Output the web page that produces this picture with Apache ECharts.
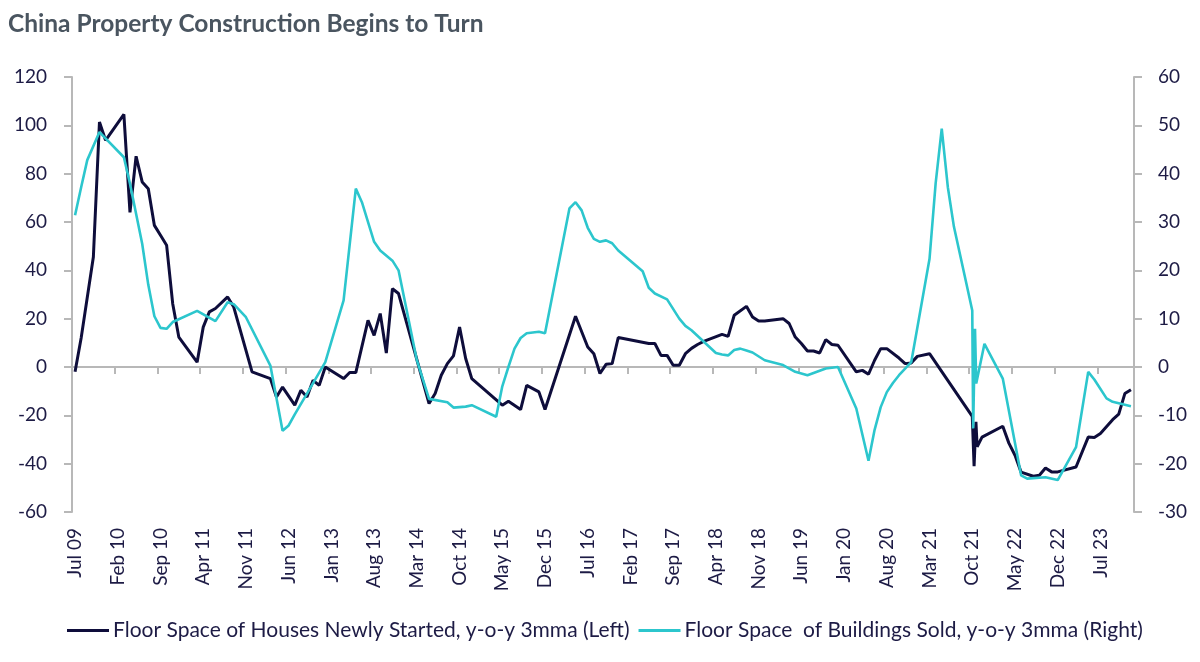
<!DOCTYPE html>
<html>
<head>
<meta charset="utf-8">
<script src="https://cdn.jsdelivr.net/npm/echarts@6/dist/echarts.min.js"></script>
<style>
  html, body { margin: 0; padding: 0; background: #fff; }
  #chart { width: 1200px; height: 662px; }
</style>
</head>
<body>
<div id="chart"></div>
<script>
// month axis: Jul 09 .. Dec 23
var monthNames = ['Jan', 'Feb', 'Mar', 'Apr', 'May', 'Jun', 'Jul', 'Aug', 'Sep', 'Oct', 'Nov', 'Dec'];
var startYear = 2009, startMonth = 6, monthCount = 174;
var months = [];
for (var i = 0; i < monthCount; i++) {
  var m = startMonth + i;
  var yy = (startYear + Math.floor(m / 12)) % 100;
  months.push(monthNames[m % 12] + ' ' + (yy < 10 ? '0' + yy : yy));
}

var leftTicks = { min: -60, max: 120, step: 20 };
var rightTicks = { min: -30, max: 60, step: 10 };

var seriesNames = [
  'Floor Space of Houses Newly Started, y-o-y 3mma (Left)',
  'Floor Space  of Buildings Sold, y-o-y 3mma (Right)'
];

// [month index from Jul 09, value]
var housesStarted = [
  [0, -2], [1, 12], [3, 45.5], [4, 101.4], [5, 93.8], [8, 104.5], [9, 64], [10, 87.2],
  [11, 76.6], [12, 73.8], [13, 58.6], [14, 54.5], [15, 50.4], [16, 26.2], [17, 12.4],
  [20, 2], [21, 16.5], [22, 22.8], [23, 24.2], [25, 29], [26, 24.8], [29, -2],
  [32, -4.8], [33, -12.4], [34, -8.3], [36, -15.8], [37, -9.6], [38, -12.4], [39, -5.5],
  [40, -7.6], [41, 0], [44, -4.8], [45, -2.3], [46, -2.3], [48, 19.3], [49, 13.1],
  [50, 22.1], [51, 5.8], [52, 32.4], [53, 30.4], [58, -15.1], [59, -11], [60, -3.4],
  [61, 1.4], [62, 4.6], [63, 16.5], [64, 3.5], [65, -4.8], [70, -15.8], [71, -14.2],
  [73, -17.6], [74, -7.6], [76, -10.3], [77, -17.6], [82, 21], [84, 8.3], [85, 5.5],
  [86, -2.7], [87, 1.1], [88, 1.4], [89, 12.2], [94, 9.7], [95, 9.7], [96, 4.8],
  [97, 4.8], [98, 0.7], [99, 0.7], [100, 5.5], [101, 7.7], [102, 9.3], [103, 10.6],
  [106, 13.5], [107, 12.7], [108, 21.4], [110, 25.1], [111, 20.7], [112, 19], [113, 19],
  [116, 20], [117, 18], [118, 12.4], [119, 9.7], [120, 6.6], [121, 6.6], [122, 5.8],
  [123, 11.3], [124, 9.3], [125, 9], [128, -2], [129, -1.4], [130, -3], [131, 2.8],
  [132, 7.6], [133, 7.6], [135, 3.7], [136, 1.4], [137, 1.7], [138, 4.4], [140, 5.5],
  [147, -20.4], [147.3, -41], [147.6, -22.7], [147.8, -33], [148.6, -29], [152, -24.5],
  [153, -31.5], [154, -36.5], [155, -43.5], [157, -45.2], [158, -44.8], [159, -41.8],
  [160, -43.4], [161, -43.4], [164, -41.4], [166, -29], [167, -29.2], [168, -27.5],
  [170, -21.8], [171, -19.5], [172, -11], [173, -9.4]
];

var buildingsSold = [
  [0, 31.4], [1, 37.2], [2, 42.8], [4, 48.6], [8, 43.4], [9, 37.9], [11, 25.5], [12, 17],
  [13, 10.5], [14, 8.1], [15, 7.9], [16, 9.3], [20, 11.6], [23, 9.5], [25, 13.4], [26, 13],
  [28, 10.3], [32, 0.3], [34, -13.2], [35, -12.1], [36, -9.8], [38, -5.5], [41, 1],
  [44, 13.8], [46, 36.9], [47, 34.1], [49, 25.9], [50, 24.1], [52, 22], [53, 20],
  [56, 1.4], [58, -6.6], [61, -7.3], [62, -8.4], [64, -8.2], [65, -7.9], [69, -10.3],
  [70, -4], [71, 0], [72, 3.8], [73, 6], [74, 7], [76, 7.3], [77, 7], [81, 32.8],
  [82, 34.1], [83, 32.4], [84, 28.8], [85, 26.5], [86, 25.9], [87, 26.2], [88, 25.6],
  [89, 24.1], [93, 19.8], [94, 16.4], [95, 15.2], [97, 14], [99, 10], [100, 8.5],
  [101, 7.6], [105, 2.9], [106, 2.6], [107, 2.4], [108, 3.5], [109, 3.8], [110, 3.4],
  [111, 3], [113, 1.4], [116, 0.4], [118, -1], [120, -1.7], [123, -0.3], [125, 0],
  [128, -8.6], [130, -19.4], [131, -13], [132, -8.3], [133, -5.2], [134, -3.3],
  [135, -1.7], [137, 1], [140, 22.4], [141, 38], [142, 49.3], [143, 37.2], [144, 29],
  [146, 17.5], [147, 11.7], [147.15, -12.7], [147.45, 7.9], [147.65, -3.4], [149, 4.8],
  [152, -2.4], [155, -22.4], [156, -23.1], [159, -22.8], [161, -23.4], [164, -16.6],
  [166, -1], [167, -2.6], [169, -6.5], [170, -7.2], [173, -8.1]
];

var textColor = '#1d1b45';
var axisGrey = '#b8b8b8';
var font = 'Lato';

var chart = echarts.init(document.getElementById('chart'));
chart.setOption({
  backgroundColor: '#fff',
  animation: false,
  title: {
    text: 'China Property Construction Begins to Turn',
    left: 3,
    top: 7,
    textStyle: { fontFamily: font, fontSize: 24.5, fontWeight: 'bold', color: '#4a5560' }
  },
  legend: {
    data: seriesNames,
    left: 62,
    top: 615,
    icon: 'rect',
    itemWidth: 42,
    itemHeight: 3,
    itemGap: 9,
    textStyle: { fontFamily: font, fontSize: 21, color: textColor, padding: [0, 0, 0, -1] }
  },
  grid: { left: 72, right: 66, top: 77, bottom: 150 },
  xAxis: [
    {
      // month labels along the bottom
      type: 'category',
      data: months,
      position: 'bottom',
      boundaryGap: true,
      axisLine: { show: false, onZero: false },
      axisTick: { show: false },
      axisLabel: {
        interval: 6,
        rotate: 90,
        margin: 16,
        fontFamily: font,
        fontSize: 19,
        color: textColor
      },
      splitLine: { show: false }
    },
    {
      // axis line with ticks on the zero level
      type: 'category',
      data: months,
      position: 'bottom',
      boundaryGap: true,
      axisLine: { show: true, onZero: true, onZeroAxisIndex: 0, lineStyle: { color: axisGrey, width: 2 } },
      axisTick: { show: true, interval: 6, length: 7, lineStyle: { color: axisGrey, width: 2 } },
      axisLabel: { show: false },
      splitLine: { show: false }
    },
    {
      // numeric month position used by the series
      type: 'value',
      min: -0.5,
      max: monthCount - 0.5,
      show: false,
      axisLine: { onZero: false },
      splitLine: { show: false }
    }
  ],
  yAxis: [
    {
      type: 'value',
      position: 'left',
      min: leftTicks.min,
      max: leftTicks.max,
      interval: leftTicks.step,
      axisLine: { show: true, onZero: false, lineStyle: { color: axisGrey, width: 2 } },
      axisTick: { show: true, length: 8, lineStyle: { color: axisGrey, width: 2 } },
      axisLabel: { margin: 25, fontFamily: font, fontSize: 19, color: textColor },
      splitLine: { show: false }
    },
    {
      type: 'value',
      position: 'right',
      min: rightTicks.min,
      max: rightTicks.max,
      interval: rightTicks.step,
      axisLine: { show: true, onZero: false, lineStyle: { color: axisGrey, width: 2 } },
      axisTick: { show: true, length: 8, lineStyle: { color: axisGrey, width: 2 } },
      axisLabel: { margin: 24, fontFamily: font, fontSize: 19, color: textColor },
      splitLine: { show: false }
    }
  ],
  series: [
    {
      name: seriesNames[0],
      type: 'line',
      xAxisIndex: 2,
      yAxisIndex: 0,
      data: housesStarted,
      symbol: 'none',
      color: '#0e0d3b',
      lineStyle: { width: 3, color: '#0e0d3b' }
    },
    {
      name: seriesNames[1],
      type: 'line',
      xAxisIndex: 2,
      yAxisIndex: 1,
      data: buildingsSold,
      symbol: 'none',
      color: '#2cc6cd',
      lineStyle: { width: 2.6, color: '#2cc6cd' }
    }
  ]
});
window.onresize = function () { chart.resize(); };
</script>
</body>
</html>
